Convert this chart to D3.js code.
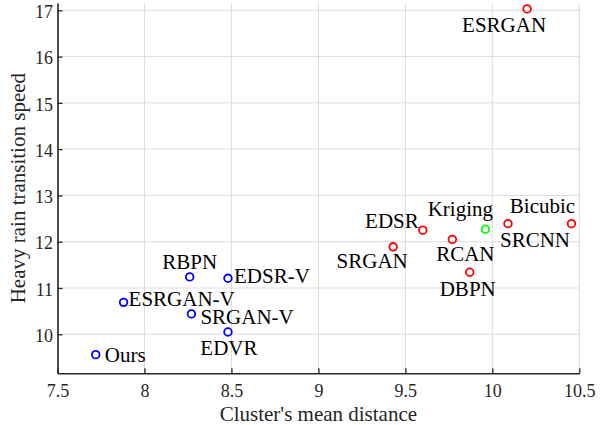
<!DOCTYPE html>
<html>
<head>
<meta charset="utf-8">
<script src="https://cdn.jsdelivr.net/npm/d3@7"></script>
<style>
  body { margin: 0; font-family: 'Liberation Serif', 'Times New Roman', monospace; }
  text { font-family: 'Liberation Serif', 'Times New Roman', monospace !important; }
</style>
</head>
<body>
<script>
// data
const methods = ['Ours', 'ESRGAN-V', 'RBPN', 'SRGAN-V', 'EDSR-V', 'EDVR',
                 'ESRGAN', 'SRGAN', 'EDSR', 'RCAN', 'DBPN', 'Kriging', 'SRCNN', 'Bicubic']
const meanDistance = [7.72, 7.88, 8.26, 8.27, 8.48, 8.48,
                      10.2, 9.43, 9.60, 9.77, 9.87, 9.96, 10.09, 10.455]
const transitionSpeed = [9.56, 10.69, 11.24, 10.44, 11.21, 10.05,
                         17.03, 11.89, 12.25, 12.05, 11.34, 12.27, 12.39, 12.39]
const group = ['video', 'video', 'video', 'video', 'video', 'video',
               'image', 'image', 'image', 'image', 'image', 'interp', 'image', 'image']
const xTicks = [7.5, 8, 8.5, 9, 9.5, 10, 10.5]
const yTicks = [10, 11, 12, 13, 14, 15, 16, 17]

// where each name sits relative to its marker (px): dx, dy to baseline, anchor
const labelPlace = [
  [9, 7, 'start'], [5, 4, 'start'], [0, -8, 'middle'], [9, 10, 'start'],
  [6, 5, 'start'], [1, 23, 'middle'],
  [-23, 23, 'middle'], [-21, 21, 'middle'], [-4, -2, 'end'], [13, 22, 'middle'],
  [-2, 24, 'middle'], [-25, -13, 'middle'], [27, 23, 'middle'], [-29, -11, 'middle']
]
const colour = { video: '#0000ff', image: '#ff0000', interp: '#00ff00' }
const serif = "'Liberation Serif', monospace"

const W = 600, H = 425
const pLeft = 57.5, pRight = 579.3, pTop = 3, pBottom = 373.3

const x = d3.scaleLinear().domain([7.5, 10.5]).range([pLeft, pRight])
const y = d3.scaleLinear().domain([9.157, 17.158]).range([pBottom, pTop])

const svg = d3.select('body').append('svg').attr('width', W).attr('height', H)
    .style('font-family', serif)

// grid
const grid = svg.append('g').attr('stroke', '#dcdcdc').attr('stroke-width', 1)
grid.selectAll('.gx').data(xTicks).join('line')
    .attr('x1', d => x(d)).attr('x2', d => x(d))
    .attr('y1', pTop).attr('y2', pBottom)
grid.selectAll('.gy').data(yTicks).join('line')
    .attr('x1', pLeft).attr('x2', pRight)
    .attr('y1', d => y(d)).attr('y2', d => y(d))

// axes, ticks point inward like matlab
const xAxis = d3.axisBottom(x).tickValues(xTicks).tickSizeInner(-5).tickSizeOuter(0)
    .tickPadding(11).tickFormat(d3.format('~g'))
const yAxis = d3.axisLeft(y).tickValues(yTicks).tickSizeInner(-5).tickSizeOuter(0)
    .tickPadding(4.5)

const gx = svg.append('g').attr('transform', `translate(0,${pBottom})`).call(xAxis)
const gy = svg.append('g').attr('transform', `translate(${pLeft},0)`).call(yAxis)
for (const g of [gx, gy]) {
    g.attr('font-family', null).attr('font-size', null)
    g.select('.domain').attr('stroke', '#262626').attr('stroke-width', 1.6)
    g.selectAll('.tick line').attr('stroke', '#262626').attr('stroke-width', 1.3)
    g.selectAll('.tick text').attr('fill', '#262626')
        .style('font-family', serif).attr('font-size', 18)
}
gy.selectAll('.tick text').attr('dy', '0.4em')

// axis titles
svg.append('text').attr('x', (pLeft + pRight) / 2).attr('y', 421)
    .attr('text-anchor', 'middle').attr('fill', '#262626')
    .style('font-family', serif).attr('font-size', 21)
    .text("Cluster's mean distance")
svg.append('text')
    .attr('transform', `translate(25,${(pTop + pBottom) / 2}) rotate(-90)`)
    .attr('text-anchor', 'middle').attr('fill', '#262626')
    .style('font-family', serif).attr('font-size', 21)
    .text('Heavy rain transition speed')

const pts = methods.map((m, i) => ({
    name: m, x: meanDistance[i], y: transitionSpeed[i], g: group[i], lp: labelPlace[i]
}))

svg.append('g').selectAll('circle').data(pts).join('circle')
    .attr('cx', d => x(d.x)).attr('cy', d => y(d.y)).attr('r', 3.8)
    .attr('fill', 'none').attr('stroke', d => colour[d.g]).attr('stroke-width', 1.8)

svg.append('g').selectAll('text').data(pts).join('text')
    .attr('x', d => x(d.x) + d.lp[0]).attr('y', d => y(d.y) + d.lp[1])
    .attr('text-anchor', d => d.lp[2]).attr('fill', '#000')
    .style('font-family', serif).attr('font-size', 21)
    .text(d => d.name)
</script>
</body>
</html>
